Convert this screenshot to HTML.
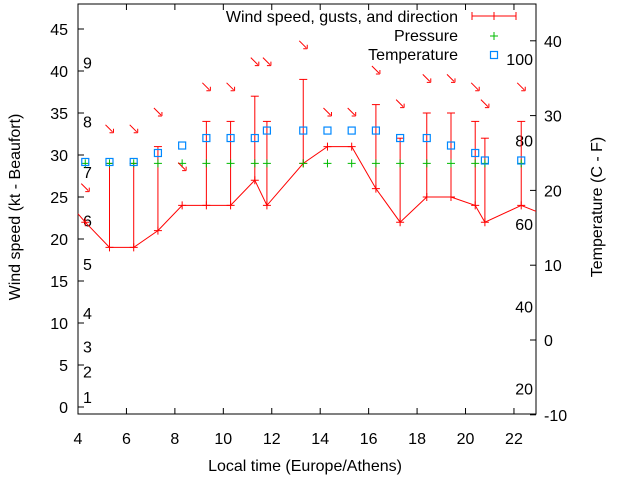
<!DOCTYPE html>
<html><head><meta charset="utf-8"><style>
body{margin:0;background:#fff}
svg{display:block;font-family:"Liberation Sans",sans-serif}
</style></head><body>
<svg id="c" width="640" height="480" xmlns="http://www.w3.org/2000/svg">
<g id="plot"></g>
</svg>
<script>
const times=[4.3,5.3,6.3,7.3,8.3,9.3,10.3,11.3,11.8,13.3,14.3,15.3,16.3,17.3,18.4,19.4,20.4,20.8,22.3];
const speeds=[22,19,19,21,24,24,24,27,24,29,31,31,26,22,25,25,24,22,24];
const gusts=[null,29,29,31,null,34,34,37,34,39,null,null,36,32,35,35,34,32,34];
const tempsC=[23.8,23.8,23.8,25,26,27,27,27,28,28,28,28,28,27,27,26,25,24,24];
const pressureKt=[29,29,29,29,29,29,29,29,29,29,29,29,29,29,29,29,29,29,29];
const arrowKt=[26,33,33,35,28.5,38,38,41,41,43,35,35,40,36,39,39,38,36,38];
const edgeSpeeds=[23,23.3];
const xTicks=[4,6,8,10,12,14,16,18,20,22];
const yTicks=[0,5,10,15,20,25,30,35,40,45];
const y2Ticks=[-10,0,10,20,30,40];
const beaufort=[[1,1.2],[2,4.2],[3,7.2],[4,11.2],[5,17],[6,22.2],[7,28],[8,34],[9,41]];
const fahr=[[20,-6.5],[40,4.5],[60,15.5],[80,26.7],[100,37.6]];

const L=78,R=536,T=4,B=414;
const X=v=>L+(v-4)*24.22;
const Y=v=>407-v*8.4;
const Y2=v=>340-v*7.48;
const NS="http://www.w3.org/2000/svg";
const g=document.getElementById('plot');
function mk(tag,attrs,name,parent){const e=document.createElementNS(NS,tag);for(const k in attrs)e.setAttribute(k,attrs[k]);


(parent||g).appendChild(e);return e;}
function txt(x,y,s,anchor,name,extra){const t=mk('text',Object.assign({x:x,y:y,'font-size':16,'text-anchor':anchor||'start',fill:'#000'},extra||{}),name);t.textContent=s;return t;}

mk('rect',{x:L,y:T,width:R-L,height:B-T,fill:'none',stroke:'#000','stroke-width':1},'plot-frame');
xTicks.forEach(v=>{const x=X(v);mk('line',{x1:x,y1:B,x2:x,y2:B-6,stroke:'#000'},'x-tick');mk('line',{x1:x,y1:T,x2:x,y2:T+6,stroke:'#000'},'x-tick-top');txt(x,444,String(v),'middle','x-tick-label');});
yTicks.forEach(v=>{const y=Y(v);mk('line',{x1:L,y1:y,x2:L+6,y2:y,stroke:'#000'},'y-tick');txt(L-10,y+6,String(v),'end','y-tick-label');});
y2Ticks.forEach(v=>{const y=Y2(v);mk('line',{x1:R,y1:y,x2:R-6,y2:y,stroke:'#000'},'y2-tick');txt(R+8,y+6,String(v),'start','y2-tick-label');});
beaufort.forEach(b=>txt(83,Y(b[1])+6,String(b[0]),'start','beaufort-label'));
fahr.forEach(f=>txt(533,Y2(f[1])+6,String(f[0]),'end','fahrenheit-label'));

let pts=[[L,Y(edgeSpeeds[0])]];times.forEach((t,i)=>pts.push([X(t),Y(speeds[i])]));pts.push([R,Y(edgeSpeeds[1])]);
mk('polyline',{points:pts.map(p=>p.join(',')).join(' '),fill:'none',stroke:'#f00','stroke-width':1},'wind-speed-line');
times.forEach((t,i)=>{const x=X(t),y=Y(speeds[i]);
 if(gusts[i]!==null){const gy=Y(gusts[i]);mk('line',{x1:x,y1:y,x2:x,y2:gy,stroke:'#f00'},'gust-bar');mk('line',{x1:x-4,y1:gy,x2:x+4,y2:gy,stroke:'#f00'},'gust-cap');}
 mk('path',{d:`M${x-4},${y}h8M${x},${y-4}v8`,stroke:'#f00',fill:'none'},'wind-point');
 const px=X(t),py=Y(pressureKt[i]);mk('path',{d:`M${px-4},${py}h8M${px},${py-4}v8`,stroke:'#0b0',fill:'none'},'pressure-point');
 const ty=Y2(tempsC[i]);mk('rect',{x:x-3.5,y:ty-3.5,width:7,height:7,fill:'none',stroke:'#08f','stroke-width':1.2},'temperature-point');
 const ay=Y(arrowKt[i]);mk('path',{d:`M${x-4},${ay-5}L${x+3},${ay+2}M${x+4},${ay+3}l-4,0M${x+4},${ay+3}l0,-4`,stroke:'#f00',fill:'none'},'wind-direction-arrow');
});

txt(458,22,'Wind speed, gusts, and direction','end','legend-wind-label');
mk('path',{d:'M472,16H516M472,12v8M516,12v8M494,12v8',stroke:'#f00',fill:'none'},'legend-wind-symbol');
txt(458,41,'Pressure','end','legend-pressure-label');
mk('path',{d:'M490,36h8M494,32v8',stroke:'#0b0',fill:'none'},'legend-pressure-symbol');
txt(458,60,'Temperature','end','legend-temperature-label');
mk('rect',{x:490.5,y:51.5,width:7,height:7,fill:'none',stroke:'#08f','stroke-width':1.2},'legend-temperature-symbol');

txt(305,471,'Local time (Europe/Athens)','middle','x-axis-title');
txt(0,0,'Wind speed (kt - Beaufort)','middle','y-axis-title',{transform:'translate(20,207) rotate(-90)'});
txt(0,0,'Temperature (C - F)','middle','y2-axis-title',{transform:'translate(602,207) rotate(-90)'});
</script>
</body></html>
